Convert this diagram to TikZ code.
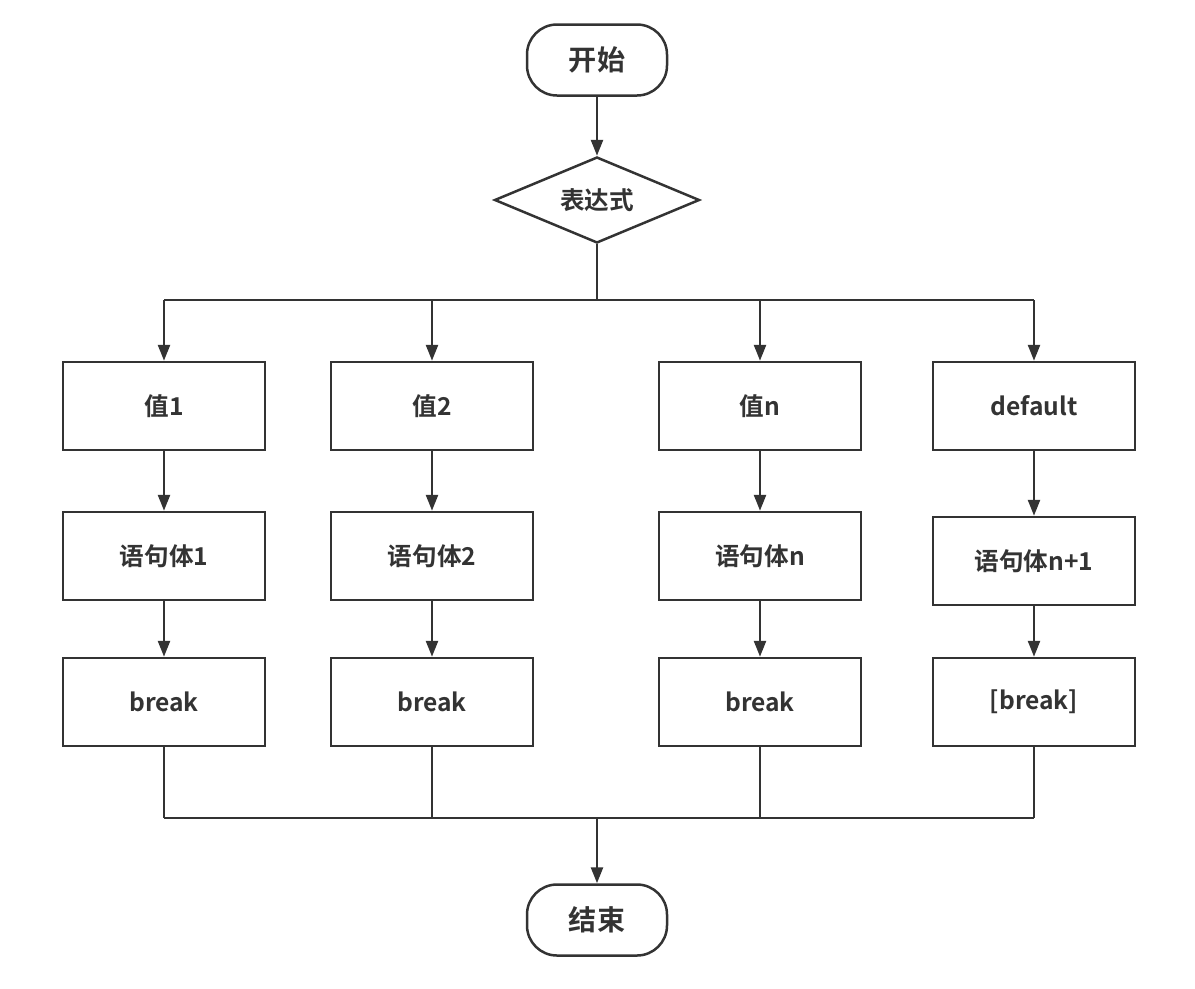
\documentclass[tikz,border=0pt]{standalone}
\usepackage{fontspec}
\newfontfamily\cjk{Noto Sans CJK SC}[BoldFont={Noto Sans CJK SC Bold}]
\usetikzlibrary{arrows.meta,
                shapes.geometric,
                positioning}
\definecolor{xian}{HTML}{333333}

\tikzset{
  kuang/.style={draw=xian, line width=0.05cm, text=xian,
    minimum width=4.04cm, minimum height=1.76cm, font=\cjk\bfseries\fontsize{14}{16}\selectfont},
  duan/.style={kuang, rounded corners=0.6cm, minimum width=2.8cm, minimum height=1.42cm,
    font=\cjk\bfseries\fontsize{16}{18}\selectfont},
  panduan/.style={kuang, diamond, aspect=2.4, minimum width=4.1cm, minimum height=1.72cm, inner sep=0pt},
  xiang/.style={draw=xian, line width=0.05cm, -{Triangle[length=0.32cm, width=0.24cm]}},
  lianxian/.style={draw=xian, line width=0.05cm}
}

\begin{document}
\begin{tikzpicture}

\useasboundingbox (0,0) rectangle (23.9,-19.76);

\node[duan] (kaishi) at (11.94,-1.2) {开始};
\node[panduan] (biaodashi) at (11.94,-4.0) {表达式};
\draw[xiang] (kaishi) -- (biaodashi);

\coordinate (fen) at (11.94,-6.0);
\coordinate (he) at (11.94,-16.36);

% column 1
\node[kuang] (zhi1) at (3.28,-8.12) {值1};
\node[kuang] (yuju1) at (3.28,-11.12) {语句体1};
\node[kuang] (break1) at (3.28,-14.04) {break};

% column 2
\node[kuang] (zhi2) at (8.64,-8.12) {值2};
\node[kuang] (yuju2) at (8.64,-11.12) {语句体2};
\node[kuang] (break2) at (8.64,-14.04) {break};

% column n
\node[kuang] (zhin) at (15.2,-8.12) {值n};
\node[kuang] (yujun) at (15.2,-11.12) {语句体n};
\node[kuang] (breakn) at (15.2,-14.04) {break};

% default
\node[kuang] (moren) at (20.68,-8.12) {default};
\node[kuang] (yujum) at (20.68,-11.22) {语句体n+1};
\node[kuang] (breakm) at (20.68,-14.04) {[break]};

\draw[lianxian] (biaodashi.south) -- (fen);
\draw[lianxian] (zhi1.north |- fen) -- (moren.north |- fen);

\foreach \z/\y/\b in {zhi1/yuju1/break1, zhi2/yuju2/break2, zhin/yujun/breakn, moren/yujum/breakm}{
  \draw[xiang] (\z.north |- fen) -- (\z);
  \draw[xiang] (\z) -- (\y);
  \draw[xiang] (\y) -- (\b);
  \draw[lianxian] (\b.south) -- (\b.south |- he);
}

\draw[lianxian] (break1.south |- he) -- (breakm.south |- he);

\node[duan] (jieshu) at (11.94,-18.4) {结束};
\draw[xiang] (he) -- (jieshu);

\end{tikzpicture}
\end{document}
